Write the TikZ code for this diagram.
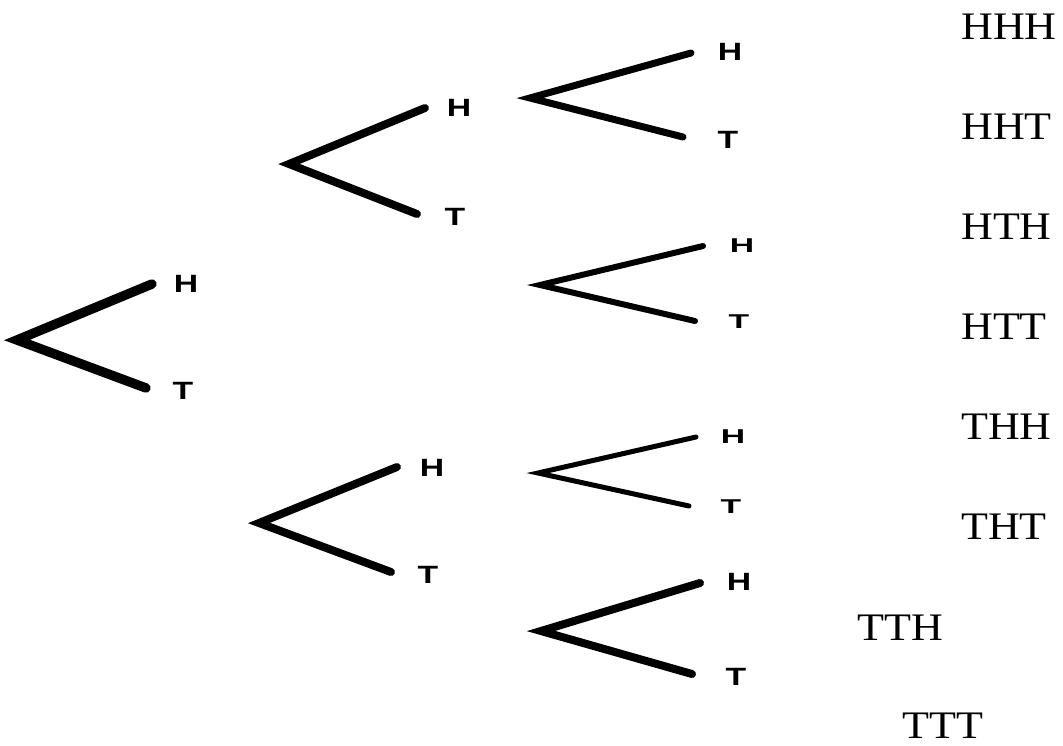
\documentclass[tikz,border=0pt]{standalone}
\usepackage{fontspec}
\newfontfamily\lblfont{Liberation Sans}[BoldFont={* Bold}]
\newfontfamily\outfont{Liberation Serif}
\begin{document}
\begin{tikzpicture}[x=1pt,y=-1pt,
  branch/.style={line join=miter,line cap=round,black},
  ht/.style={inner sep=0pt,font=\lblfont\bfseries\fontsize{25}{25}\selectfont,xscale=1.35},
  htflat/.style={ht,yscale=0.8},
  outcome/.style={inner sep=0pt,anchor=base west,text depth=0pt,font=\outfont\fontsize{39}{39}\selectfont,xscale=1.13}]
\useasboundingbox (0,0) rectangle (1063,745);
% level 1
\coordinate (v0) at (17,340);
\coordinate (e0h) at (152,284);
\coordinate (e0t) at (146,388);
\node[ht] (l0h) at (186,284) {H};
\node[ht] (l0t) at (183,391) {T};
\draw[branch,line width=9.5pt] (e0h) -- (v0) -- (e0t);
% level 2 upper
\coordinate (v1) at (289,164);
\coordinate (e1h) at (425,108);
\coordinate (e1t) at (417,214);
\node[ht] (l1h) at (459,108) {H};
\node[ht] (l1t) at (455,217) {T};
\draw[branch,line width=8pt] (e1h) -- (v1) -- (e1t);
% level 2 lower
\coordinate (v2) at (259,523);
\coordinate (e2h) at (397,467);
\coordinate (e2t) at (391,572);
\node[ht] (l2h) at (432,468) {H};
\node[ht] (l2t) at (428,575) {T};
\draw[branch,line width=8pt] (e2h) -- (v2) -- (e2t);
% level 3 row 1
\coordinate (v3) at (530,98);
\coordinate (e3h) at (691,53);
\coordinate (e3t) at (683,137);
\node[ht] (l3h) at (730,52) {H};
\node[ht] (l3t) at (728,140) {T};
\draw[branch,line width=7pt] (e3h) -- (v3) -- (e3t);
% level 3 row 2
\coordinate (v4) at (540,285);
\coordinate (e4h) at (703,246);
\coordinate (e4t) at (695,321);
\node[htflat] (l4h) at (742,246) {H};
\node[htflat] (l4t) at (739,322) {T};
\draw[branch,line width=6pt] (e4h) -- (v4) -- (e4t);
% level 3 row 3
\coordinate (v5) at (538,473);
\coordinate (e5h) at (696,437);
\coordinate (e5t) at (689,506);
\node[htflat] (l5h) at (733,437) {H};
\node[htflat] (l5t) at (731,507) {T};
\draw[branch,line width=5pt] (e5h) -- (v5) -- (e5t);
% level 3 row 4
\coordinate (v6) at (541,631);
\coordinate (e6h) at (700,583);
\coordinate (e6t) at (692,674);
\node[ht] (l6h) at (739,582) {H};
\node[ht] (l6t) at (736,677) {T};
\draw[branch,line width=8pt] (e6h) -- (v6) -- (e6t);
% outcomes
\node[outcome] (o1) at (961,39) {HHH};
\node[outcome] (o2) at (961,139) {HHT};
\node[outcome] (o3) at (961,239) {HTH};
\node[outcome] (o4) at (961,339) {HTT};
\node[outcome] (o5) at (961,439) {THH};
\node[outcome] (o6) at (961,539) {THT};
\node[outcome] (o7) at (857,640) {TTH};
\node[outcome] (o8) at (902,738) {TTT};
\end{tikzpicture}
\end{document}
